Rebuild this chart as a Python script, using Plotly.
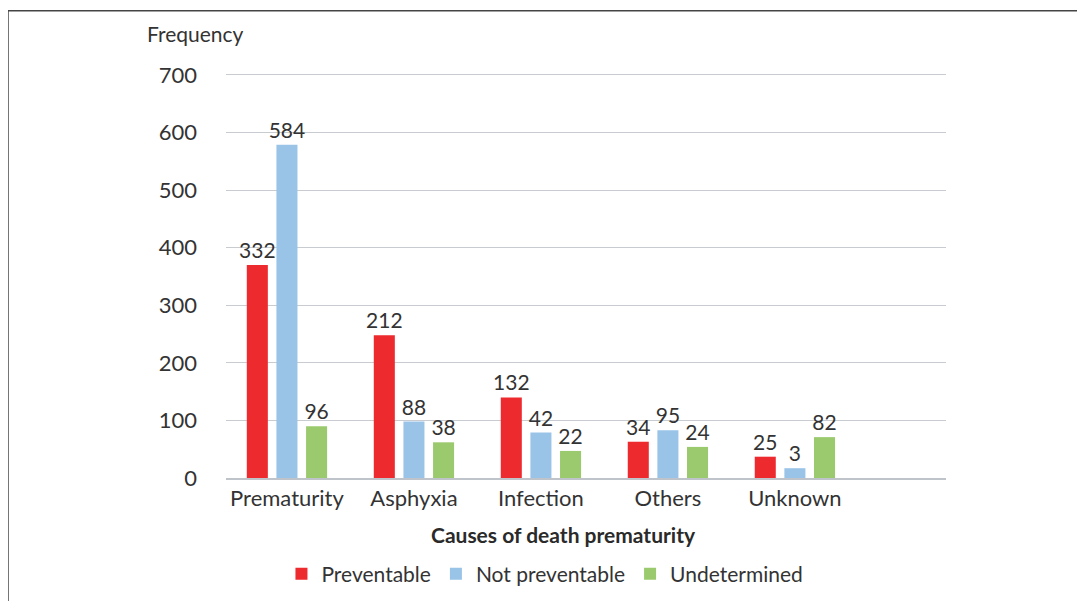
"""
Causes of death prematurity - grouped bar chart
"""
import plotly.graph_objects as go

# カテゴリ
categories = ["Prematurity", "Asphyxia", "Infection", "Others", "Unknown"]

# 棒の高さ
preventable = [370, 248, 140, 63, 37]
not_preventable = [579, 98, 79, 83, 17]
undetermined = [90, 62, 47, 54, 71]

# 棒の上に表示されている数値ラベル
preventable_labels = [332, 212, 132, 34, 25]
not_preventable_labels = [584, 88, 42, 95, 3]
undetermined_labels = [96, 38, 22, 24, 82]

y_ticks = [0, 100, 200, 300, 400, 500, 600, 700]

FONT = "Lato"
TEXT_COLOR = "#333333"

series = [
    ("Preventable", preventable, preventable_labels, "#ed2a2e"),
    ("Not preventable", not_preventable, not_preventable_labels, "#99c4e8"),
    ("Undetermined", undetermined, undetermined_labels, "#9bca6e"),
]

fig = go.Figure()
for name, values, labels, color in series:
    fig.add_trace(
        go.Bar(
            x=categories,
            y=values,
            name=name,
            marker=dict(color=color, line=dict(width=0)),
            text=[str(v) for v in labels],
            textposition="outside",
            constraintext="none",
            textfont=dict(family=FONT, size=21, color=TEXT_COLOR),
            cliponaxis=False,
        )
    )

# レイアウト設定（ページのbody余白8pxを考慮）
fig.update_layout(
    width=1077,
    height=593,
    barmode="group",
    bargap=0.30,
    bargroupgap=0.29,
    plot_bgcolor="white",
    paper_bgcolor="white",
    margin=dict(l=218, r=139, t=61, b=123, autoexpand=False),
    font=dict(family=FONT, size=22, color=TEXT_COLOR),
    showlegend=True,
    legend=dict(
        orientation="h",
        x=0.443,
        xanchor="center",
        y=-0.235,
        yanchor="middle",
        font=dict(family=FONT, size=21, color=TEXT_COLOR),
        itemwidth=30,
        tracegroupgap=0,
    ),
)

fig.update_xaxes(
    type="category",
    range=[-0.48, 5.19],
    showgrid=False,
    showline=True,
    linecolor="#bfc4ca",
    linewidth=1.5,
    ticks="",
    tickfont=dict(family=FONT, size=22, color=TEXT_COLOR),
)

fig.update_yaxes(
    range=[0, 710.4],
    tickvals=y_ticks,
    showgrid=True,
    gridcolor="#c8ccd1",
    gridwidth=1.2,
    zeroline=False,
    showline=False,
    ticks="",
    ticklabelstandoff=28,
    tickfont=dict(family=FONT, size=22, color=TEXT_COLOR),
)

# 縦軸タイトルと横軸タイトル
fig.add_annotation(
    text="Frequency",
    xref="paper", yref="paper",
    x=-0.1125, y=1.086,
    xanchor="left", yanchor="middle",
    showarrow=False,
    font=dict(family=FONT, size=21, color=TEXT_COLOR),
)
fig.add_annotation(
    text="<b>Causes of death prematurity</b>",
    xref="paper", yref="paper",
    x=0.469, y=-0.137,
    xanchor="center", yanchor="middle",
    showarrow=False,
    font=dict(family=FONT, size=21, color="#2a2a2a"),
)

# 外枠
fig.add_shape(
    type="rect",
    xref="paper", yref="paper",
    x0=-0.3028, x1=1.3, y0=-0.4, y1=1.1425,
    line=dict(color="#444444", width=1.5),
    fillcolor="rgba(0,0,0,0)",
    layer="below",
)

fig.write_html("out.html")
